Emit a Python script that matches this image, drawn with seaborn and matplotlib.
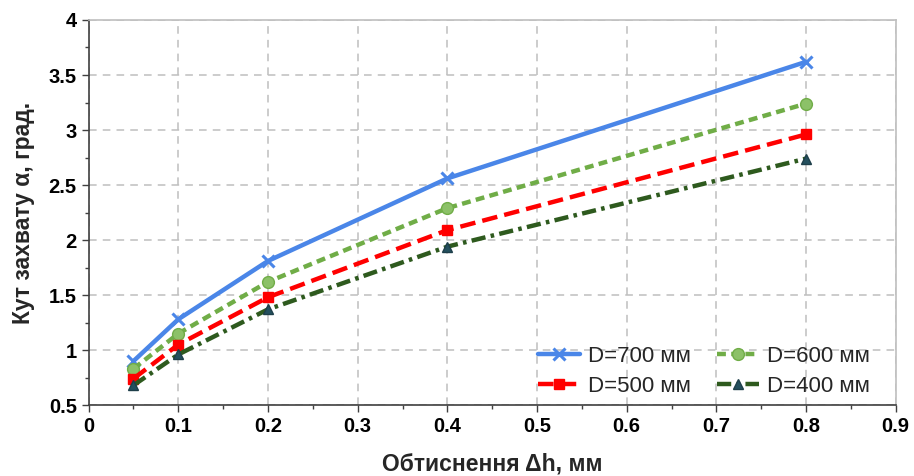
import matplotlib
matplotlib.use("Agg")
import matplotlib.pyplot as plt
import seaborn as sns
import pandas as pd
from matplotlib.ticker import MultipleLocator, FuncFormatter

dh = [0.05, 0.1, 0.2, 0.4, 0.8]
d700 = [0.90, 1.28, 1.81, 2.56, 3.62]
d600 = [0.83, 1.15, 1.62, 2.29, 3.24]
d500 = [0.74, 1.05, 1.48, 2.09, 2.96]
d400 = [0.68, 0.96, 1.37, 1.94, 2.74]
labels = ["D=700 мм", "D=600 мм", "D=500 мм", "D=400 мм"]

sns.set_theme(style="white")
plt.rcParams['font.family'] = ['Liberation Sans', 'DejaVu Sans']

fig = plt.figure(figsize=(9.14, 4.76), dpi=100)
ax = fig.add_axes([0.097, 0.149, 0.883, 0.809])

styles = [
    dict(color="#4A86E8", ls="-", marker="x", ms=8.5, mew=2.2, mfc="#4A86E8", mec="#4A86E8"),
    dict(color="#70AD47", ls=(0, (2.0, 1.2)), marker="o", ms=8.5, mew=1, mfc="#8CC168", mec="#70AD47"),
    dict(color="#FF0000", ls=(0, (3.5, 1.6)), marker="s", ms=7.5, mew=1, mfc="#FF0000", mec="#FF0000"),
    dict(color="#2E5A1E", ls=(0, (3.2, 1.2, 0.8, 1.2)), marker="^", ms=7.5, mew=1, mfc="#24505E", mec="#1E3F4A"),
]
series = [d700, d600, d500, d400]
handles = []
for vals, lab, st in zip(series, labels, styles):
    df = pd.DataFrame({"x": dh, "y": vals})
    sns.lineplot(data=df, x="x", y="y", ax=ax, label=lab, color=st["color"], lw=3.2)
    line = ax.lines[-1]
    line.set_linestyle(st["ls"])
    line.set_marker(st["marker"])
    line.set_markersize(st["ms"])
    line.set_markeredgewidth(st["mew"])
    line.set_markerfacecolor(st["mfc"])
    line.set_markeredgecolor(st["mec"])
    handles.append(line)

ax.set_xlim(0, 0.9)
ax.set_ylim(0.5, 4)
ax.xaxis.set_major_locator(MultipleLocator(0.1))
ax.xaxis.set_minor_locator(MultipleLocator(0.05))
ax.yaxis.set_major_locator(MultipleLocator(0.5))
ax.yaxis.set_minor_locator(MultipleLocator(0.25))
ax.xaxis.set_major_formatter(FuncFormatter(lambda v, p: f"{v:g}"))
ax.yaxis.set_major_formatter(FuncFormatter(lambda v, p: f"{v:g}"))

ax.grid(True, which="major", color="#BFBFBF", ls=(0, (5, 4)), lw=1.1)
ax.tick_params(axis="both", which="both", direction="out", left=True, bottom=True,
               colors="#404040", labelcolor="black")
ax.tick_params(which="major", length=5, width=1, labelsize=14.5)
ax.tick_params(which="minor", length=3, width=1)
for lab in ax.get_xticklabels() + ax.get_yticklabels():
    lab.set_fontweight("bold")

for s in ["top", "right"]:
    ax.spines[s].set_color("#BFBFBF")
    ax.spines[s].set_linewidth(1.2)
for s in ["left", "bottom"]:
    ax.spines[s].set_color("#404040")
    ax.spines[s].set_linewidth(1.2)

ax.set_xlabel("Обтиснення Δh, мм", fontsize=16.5, fontweight="bold", labelpad=12)
ax.set_ylabel("Кут захвату α, град.", fontsize=16.5, fontweight="bold", labelpad=10)

order = [0, 2, 1, 3]
ax.legend([handles[i] for i in order], [labels[i] for i in order],
          ncol=2, loc="lower right", bbox_to_anchor=(0.993, -0.03), frameon=False,
          fontsize=16, handlelength=1.9, columnspacing=1.2, handletextpad=0.35,
          labelspacing=0.4)

fig.savefig("out.png", dpi=100)
